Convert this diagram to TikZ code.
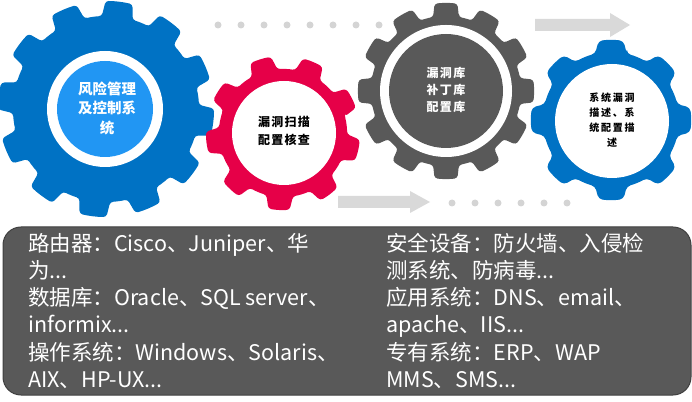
\documentclass[tikz,border=0pt]{standalone}
\usepackage{fontspec}
\setmainfont{Noto Sans CJK SC}

\definecolor{gearblue}{RGB}{0,114,196}
\definecolor{lightblue}{RGB}{33,150,243}
\definecolor{gearred}{RGB}{230,0,72}
\definecolor{geargray}{RGB}{89,89,89}
\definecolor{arrowgray}{RGB}{217,217,217}
\definecolor{dotgray}{RGB}{212,212,212}

\newcommand{\dotsmore}{...}

% gear outline: teeth, root radius, tip radius, phase, base part, tip part
\newcommand{\gearpath}[6]{%
  ({#4-#5*360/#1}:#2)
  \foreach \k [evaluate=\k as \a using #4+(\k-1)*360/#1] in {1,...,#1}{
    -- ({\a-#6*360/#1}:#3)
    arc[start angle={\a-#6*360/#1}, end angle={\a+#6*360/#1}, radius=#3]
    -- ({\a+#5*360/#1}:#2)
    arc[start angle={\a+#5*360/#1}, end angle={\a+(1-#5)*360/#1}, radius=#2]
  } -- cycle}

\begin{document}
\begin{tikzpicture}
[
  x=1pt,
  y=1pt,
  dot/.style={fill=dotgray},
  flow/.style={fill=arrowgray},
  gearlabel/.style={align=center,inner sep=0pt},
  boxtext/.style={anchor=base west,inner sep=0pt,text=white,font=\fontsize{21.5}{26}\selectfont}
]
\useasboundingbox (0,0) rectangle (692,401);

% Dotted guide lines
\foreach \x in {218,241,...,379} {
  \fill[dot] (\x,376) circle (3.5);
}
\foreach \x in {452,475,...,567} {
  \fill[dot] (\x,198) circle (3.5);
}

% Flow arrows
\fill[flow] (535,370) -- (610,370) -- (610,364) -- (630,376) -- (610,388) -- (610,382) -- (535,382) -- cycle;
\fill[flow] (338,193) -- (410,193) -- (410,188) -- (430,199) -- (410,210) -- (410,205) -- (338,205) -- cycle;

% Gears
\fill[gearblue,shift={(106,292)},rounded corners=3pt] \gearpath{12}{93}{108}{83}{0.32}{0.24};
\fill[white] (105,292) circle (58);
\fill[lightblue] (105,292) circle (48);

\fill[gearred,shift={(283,268)},rounded corners=3pt] \gearpath{9}{64}{77}{27}{0.3}{0.2};
\fill[white] (284,268) circle (52);

\fill[geargray,shift={(446,310)},rounded corners=3pt] \gearpath{12}{75}{88}{90}{0.33}{0.25};
\fill[white] (446,310) circle (66);
\fill[geargray] (446,310) circle (57);

\fill[gearblue,shift={(611,281)},rounded corners=4pt] \gearpath{8}{68}{80}{90}{0.3}{0.2};
\fill[white] (612,280) circle (57);

% Gear labels
\node[gearlabel,text=white,font=\bfseries\fontsize{14.5}{19.5}\selectfont] (risk) at (107,293) {风险管理\\及控制系\\统};
\node[gearlabel,text=black,font=\bfseries\fontsize{12}{18}\selectfont\addfontfeature{LetterSpace=10}] (scan) at (284,270) {漏洞扫描\\配置核查};
\node[gearlabel,text=white,font=\bfseries\fontsize{12}{17}\selectfont\addfontfeature{LetterSpace=11}] (patchlib) at (446,311) {漏洞库\\补丁库\\配置库};
\node[gearlabel,text=black,font=\bfseries\fontsize{10}{15}\selectfont\addfontfeature{LetterSpace=17}] (desc) at (612,281) {系统漏洞\\描述、系\\统配置描\\述};

% Asset box
\draw[fill=geargray,draw=black!75,line width=1pt,rounded corners=18pt] (3,6) rectangle (691,174);
\foreach \t [count=\i] in {路由器：Cisco、Juniper、华, 为\dotsmore, 数据库：Oracle、SQL server、, informix\dotsmore, 操作系统：Windows、Solaris、, AIX、HP-UX\dotsmore} {
  \node[boxtext] (left\i) at (28,{149-27*(\i-1)}) {\t};
}
\foreach \t [count=\i] in {安全设备：防火墙、入侵检, 测系统、防病毒\dotsmore, 应用系统：DNS、email、, apache、IIS\dotsmore, 专有系统：ERP、WAP, MMS、SMS\dotsmore} {
  \node[boxtext] (right\i) at (386,{149-27*(\i-1)}) {\t};
}

\end{tikzpicture}
\end{document}
